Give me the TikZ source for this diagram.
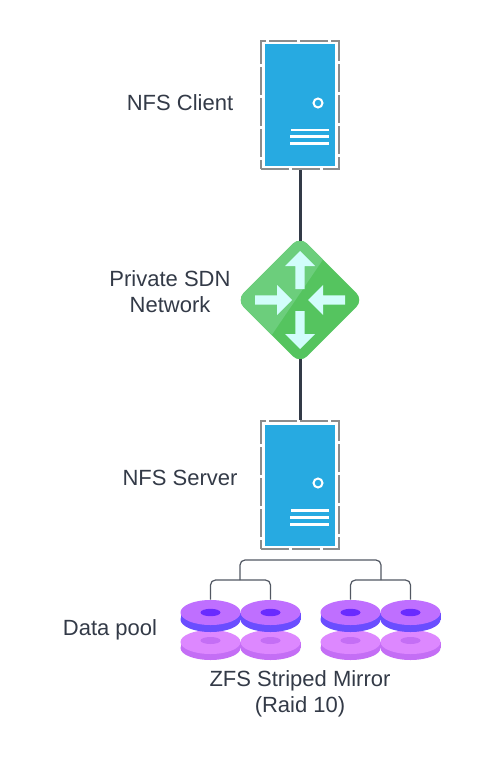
\documentclass[tikz,border=0pt]{standalone}
\usepackage{fontspec}
\setmainfont{Liberation Sans}
\usetikzlibrary{shapes.geometric}

\definecolor{srvblue}{HTML}{27AAE1}
\definecolor{srvdash}{HTML}{8C8C8C}
\definecolor{inkdark}{HTML}{333A47}
\definecolor{swlight}{HTML}{6CCE7C}
\definecolor{swdark}{HTML}{55C45F}
\definecolor{swarrow}{HTML}{D1FDFB}
\definecolor{topface}{HTML}{BF6FFF}
\definecolor{topside}{HTML}{6A4DFF}
\definecolor{tophole}{HTML}{6A2BFF}
\definecolor{lowface}{HTML}{DD88FF}
\definecolor{lowside}{HTML}{C46EF5}

\def\px{0.75pt}
\tikzstyle{label}=[inner sep=0,text=inkdark,align=center,font=\fontsize{16.5}{19.5}\selectfont]
\tikzstyle{rack}=[draw=srvdash,line width=2.8*\px,dash pattern=on 28*\px off 3*\px,minimum width=78*\px,minimum height=128*\px,inner sep=0]
\tikzstyle{link}=[draw=inkdark,line width=3*\px]
\tikzstyle{tree}=[draw=inkdark!85!white,line width=1.2*\px,rounded corners=5*\px]
\tikzstyle{switch}=[diamond,aspect=1,inner sep=0,minimum width=127*\px,minimum height=127*\px,rounded corners=10*\px,fill=swdark,path picture={
      \fill[swlight] ([shift={(43,-70)}]path picture bounding box.center) -- ([shift={(-52,70)}]path picture bounding box.center) -- ([shift={(-70,70)}]path picture bounding box.center) -- ([shift={(-70,-70)}]path picture bounding box.center) -- cycle;}]

\begin{document}
\begin{tikzpicture}[x=\px,y=-\px]
\useasboundingbox (0,0) rectangle (480,763);

% servers
\foreach \name/\y in {client/105,server/485}{
	\node[rack] (\name) at (300,\y) {};
	\begin{scope}[shift={(300,\y)}]
	\fill[srvblue] (-35,-60.5) rectangle (34.5,61);
	\draw[white,line width=2*\px] (18,-2) circle (4.5);
	\fill[white] (-9.5,24) rectangle (28.5,26.5);
	\fill[white] (-10,30.5) rectangle (29,33.5);
	\fill[white] (-10,37.5) rectangle (29,40.5);
	\end{scope}
}

% network switch
\node[switch] (sdn) at (300,300) {};
\begin{scope}[shift={(sdn.center)}]
\foreach \ang/\tip/\base/\tail in {0/49/34/11,90/8/23/45,180/49/34/11,270/8/23/45}{
	\fill[swarrow,rotate=\ang] (0,-\tip) -- (15,-\base) -- (4.7,-\base) -- (4.7,-\tail) -- (-4.7,-\tail) -- (-4.7,-\base) -- (-15,-\base) -- cycle;
}
\end{scope}
\draw[link,shorten >=-4.5*\px] (client) -- (sdn);
\draw[link,shorten <=-4.5*\px] (sdn) -- (server);

% disks
\foreach \x in {210.5,270.5,350.5,410.5}{
	\fill[lowside] (\x,648) ellipse [x radius=30,y radius=12];
	\fill[lowside] (\x-30,642) rectangle (\x+30,648);
	\fill[lowface] (\x,642) ellipse [x radius=30,y radius=12];
	\fill[lowside] (\x,640.5) ellipse [x radius=10,y radius=3.5];
}
\foreach \n/\x in {1/210.5,2/270.5,3/350.5,4/410.5}{
	\fill[topside] (\x,619.5) ellipse [x radius=30,y radius=12.5];
	\fill[topside] (\x-30,612.5) rectangle (\x+30,619.5);
	\node[ellipse,inner sep=0,minimum width=60*\px,minimum height=25*\px,fill=topface] (disk\n) at (\x,612.5) {};
	\fill[tophole] (\x,612.5) ellipse [x radius=10,y radius=3.7];
}

% mirror tree
\coordinate (branchA) at (240,580);
\coordinate (branchB) at (381,580);
\coordinate (trunk) at (310,560);
\draw[tree] (disk1.north) |- (branchA) -| (disk2.north);
\draw[tree] (disk3.north) |- (branchB) -| (disk4.north);
\draw[tree] (branchA) |- (trunk) -| (branchB);

% labels
\node[label] (lblclient) at (180,103) {NFS Client};
\node[label] (lblsdn) at (170,292) {Private SDN\\Network};
\node[label] (lblserver) at (180,478) {NFS Server};
\node[label] (lblpool) at (110,630) {Data pool};
\node[label] (lblzfs) at (300,694) {ZFS Striped Mirror\\(Raid 10)};
\end{tikzpicture}
\end{document}
